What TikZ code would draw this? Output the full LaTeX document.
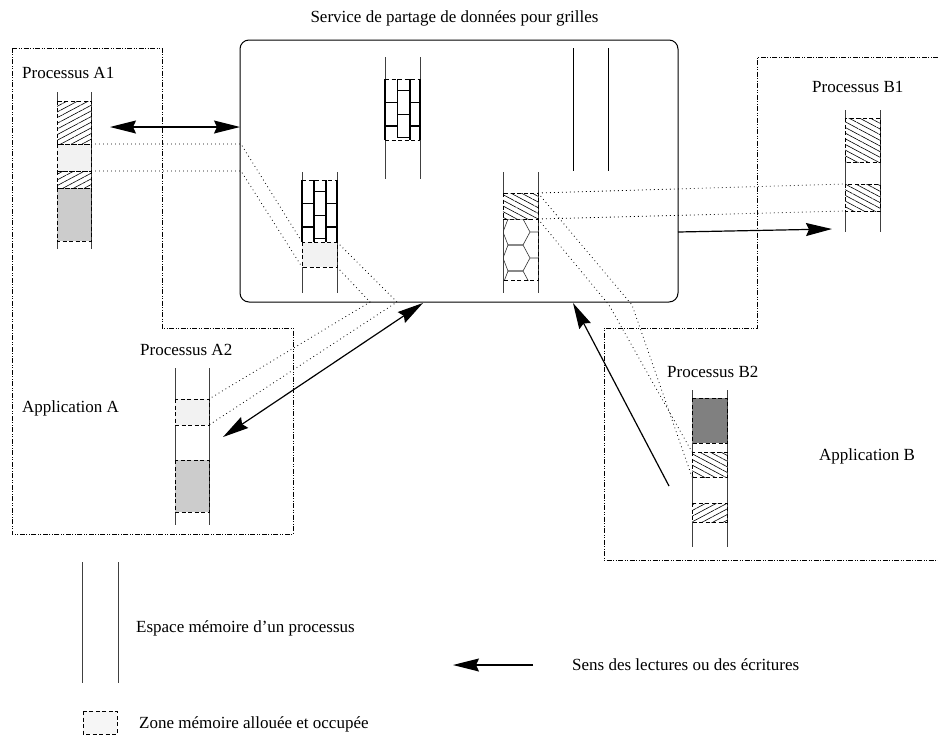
\documentclass[tikz,border=0pt]{standalone}
\usepackage{fontspec}
\setmainfont{Liberation Serif}
\usetikzlibrary{arrows.meta,patterns.meta}
\definecolor{lightg}{HTML}{F2F2F2}
\definecolor{midg}{HTML}{CCCCCC}
\definecolor{darkg}{HTML}{808080}
\begin{document}
\begin{tikzpicture}[x=1pt,y=-1pt,
  lbl/.style={font=\fontsize{17}{20}\selectfont, inner sep=0pt, anchor=base west},
  appbox/.style={line width=0.7pt, dash pattern=on 5pt off 1.5pt on 1pt off 1.5pt on 1pt off 1.5pt},
  colline/.style={line width=0.8pt, draw=black!75},
  zone/.style={draw, line width=0.8pt, dash pattern=on 4pt off 2.5pt},
  hatchNE/.style={fill=white, postaction={pattern={Lines[angle=28,distance=5pt,line width=0.6pt]}}},
  hatchNW/.style={fill=white, postaction={pattern={Lines[angle=-28,distance=5pt,line width=0.6pt]}}},
  dotline/.style={line width=0.8pt, dash pattern=on 0.8pt off 3.2pt},
  sarrow/.style={line width=1.2pt, -{Stealth[length=26pt,width=13pt,inset=3pt]}},
  darrow/.style={line width=1.2pt, {Stealth[length=26pt,width=13pt,inset=3pt]}-{Stealth[length=26pt,width=13pt,inset=3pt]}},
  brickline/.style={line width=1.1pt},
  hexline/.style={line width=0.6pt, draw=black!80},
]
\fill[white] (0,0) rectangle (938,737);
\useasboundingbox (0,0) rectangle (938,737);

% ---------- applications ----------
\draw[appbox] (12,48) -- (162,48) -- (162,328) -- (293,328) -- (293,534) -- (12,534) -- cycle;
\draw[appbox] (938,57) -- (757,57) -- (757,328) -- (604,328) -- (604,560) -- (938,560);

% ---------- service ----------
\node[draw, line width=1pt, rounded corners=9pt, inner sep=0pt, minimum width=438pt, minimum height=262pt] (svc) at (459,171) {};
\node[lbl, anchor=base] (title) at (454.5,22) {Service de partage de données pour grilles};

% ---------- Processus A1 ----------
\node[lbl] (pA1) at (22,78) {Processus A1};
\draw[colline] (57,92) -- (57,249) (91,92) -- (91,249);
\path[hatchNE] (57,101) rectangle (91,144);
\fill[lightg] (57,144) rectangle (91,171);
\path[hatchNE] (57,171) rectangle (91,188);
\fill[midg] (57,188) rectangle (91,241);
\draw[zone] (57,101) rectangle (91,144);
\draw[zone] (57,144) rectangle (91,171);
\draw[zone] (57,171) rectangle (91,188);
\draw[zone] (57,188) rectangle (91,241);

% ---------- Processus A2 ----------
\node[lbl] (pA2) at (140,355) {Processus A2};
\node[lbl] (appA) at (22,412) {Application A};
\draw[colline] (175,368) -- (175,525) (209,368) -- (209,525);
\fill[lightg] (175,399) rectangle (209,425);
\fill[midg] (175,460) rectangle (209,512);
\draw[zone] (175,399) rectangle (209,425);
\draw[zone] (175,460) rectangle (209,512);

% ---------- Processus B1 ----------
\node[lbl] (pB1) at (812,92) {Processus B1};
\draw[colline] (845,110) -- (845,232) (880,110) -- (880,232);
\path[hatchNW] (845,118) rectangle (880,162);
\path[hatchNW] (845,184) rectangle (880,211);
\draw[zone] (845,118) rectangle (880,162);
\draw[zone] (845,184) rectangle (880,211);

% ---------- Processus B2 ----------
\node[lbl] (pB2) at (667,377) {Processus B2};
\node[lbl] (appB) at (819,460) {Application B};
\draw[colline] (692,390) -- (692,547) (727,390) -- (727,547);
\fill[darkg] (692,398) rectangle (727,443);
\path[hatchNW] (692,452) rectangle (727,477);
\path[hatchNE] (692,503) rectangle (727,522);
\draw[zone] (692,398) rectangle (727,443);
\draw[zone] (692,452) rectangle (727,477);
\draw[zone] (692,503) rectangle (727,522);

% ---------- service column 1 (bricks + zone) ----------
\draw[colline] (302,172) -- (302,293) (337,172) -- (337,293);
\fill[lightg] (302,242) rectangle (337,267);
\draw[zone] (302,242) rectangle (337,267);
\draw[brickline] (302,180) -- (302,242) (314,180) -- (314,242) (326,180) -- (326,242) (337,180) -- (337,242);
\foreach \yy in {203.5,227} {\draw[brickline] (302,\yy) -- (314,\yy) (326,\yy) -- (337,\yy);}
\foreach \yy in {191.7,215.2,238.7} {\draw[brickline] (314,\yy) -- (326,\yy);}
\draw[zone] (302,180) -- (337,180);

% ---------- service column 2 (bricks) ----------
\draw[colline] (385,57) -- (385,179) (420,57) -- (420,179);
\draw[brickline] (385,79) -- (385,140) (397.5,79) -- (397.5,138) (410,79) -- (410,140) (420,79) -- (420,140);
\foreach \yy in {102.5,126} {\draw[brickline] (385,\yy) -- (397.5,\yy) (410,\yy) -- (420,\yy);}
\foreach \yy in {90.7,114.2,137.7} {\draw[brickline] (397.5,\yy) -- (410,\yy);}
\draw[zone] (385,79) -- (420,79);
\draw[zone] (385,140) -- (420,140);

% ---------- service column 3 (empty) ----------
\draw[line width=0.8pt] (573,48) -- (573,171) (608,48) -- (608,171);

% ---------- service column 4 (hatch + hexagons) ----------
\draw[colline] (503,172) -- (503,293) (538,172) -- (538,293);
\path[hatchNW] (503,193) rectangle (538,219);
\draw[zone] (503,193) rectangle (538,219);
\begin{scope}
  \clip (503,219) rectangle (538,280);
  \foreach \k in {0,1,2} {
    \pgfmathsetmacro\yy{219+26*\k}
    \draw[hexline] (503,\yy+13) -- (508,\yy) -- (523,\yy) -- (530,\yy+13) -- (523,\yy+26) -- (508,\yy+26) -- cycle
                   (530,\yy+13) -- (538,\yy+13);
  }
\end{scope}
\draw[zone] (538,219) -- (538,280) -- (503,280);

% ---------- named connector points ----------
\coordinate (a1t) at (91,144);   \coordinate (a1b) at (91,171);
\coordinate (k1t) at (241,144);  \coordinate (k1b) at (241,171);
\coordinate (c1t) at (302,242);  \coordinate (c1b) at (302,267);
\coordinate (c1rt) at (337,242); \coordinate (c1rb) at (337,267);
\coordinate (k2t) at (397,302);  \coordinate (k2b) at (370,302);
\coordinate (a2t) at (209,399);  \coordinate (a2b) at (209,425);
\coordinate (c4t) at (538,193);  \coordinate (c4b) at (538,219);
\coordinate (b1t) at (845,184);  \coordinate (b1b) at (845,211);
\coordinate (k3t) at (632,305);  \coordinate (k3b) at (609,305);
\coordinate (b2t) at (692,452);  \coordinate (b2b) at (692,477);

% ---------- dotted correspondences ----------
\draw[dotline] (a1t) -- (k1t) -- (c1t);
\draw[dotline] (a1b) -- (k1b) -- (c1b);
\draw[dotline] (c1rt) -- (k2t) -- (a2b);
\draw[dotline] (c1rb) -- (k2b) -- (a2t);
\draw[dotline] (c4t) -- (b1t);
\draw[dotline] (c4b) -- (b1b);
\draw[dotline] (c4t) -- (k3t) -- (b2b);
\draw[dotline] (c4b) -- (k3b) -- (b2t);

% ---------- arrows ----------
\coordinate (arA1) at (110,127);  \coordinate (arS1) at (240,127);
\coordinate (arA2) at (223,437);  \coordinate (arS2) at (423,303);
\coordinate (arS3) at (678,232);  \coordinate (arB1) at (832,229);
\coordinate (arB2) at (669,486);  \coordinate (arS4) at (573,303);
\draw[darrow] (arA1) -- (arS1);
\draw[darrow] (arA2) -- (arS2);
\draw[sarrow] (arS3) -- (arB1);
\draw[sarrow] (arB2) -- (arS4);

% ---------- legend ----------
\draw[colline] (82,562) -- (82,683) (118,562) -- (118,683);
\node[lbl] (lg1) at (136,632) {Espace mémoire d’un processus};
\coordinate (lgTail) at (533,665); \coordinate (lgTip) at (453,665);
\draw[sarrow] (lgTail) -- (lgTip);
\node[lbl] (lg2) at (572,670) {Sens des lectures ou des écritures};
\fill[lightg!70!white] (83,711) rectangle (117,734);
\draw[zone] (83,711) rectangle (117,734);
\node[lbl] (lg3) at (139,728) {Zone mémoire allouée et occupée};
\end{tikzpicture}
\end{document}
